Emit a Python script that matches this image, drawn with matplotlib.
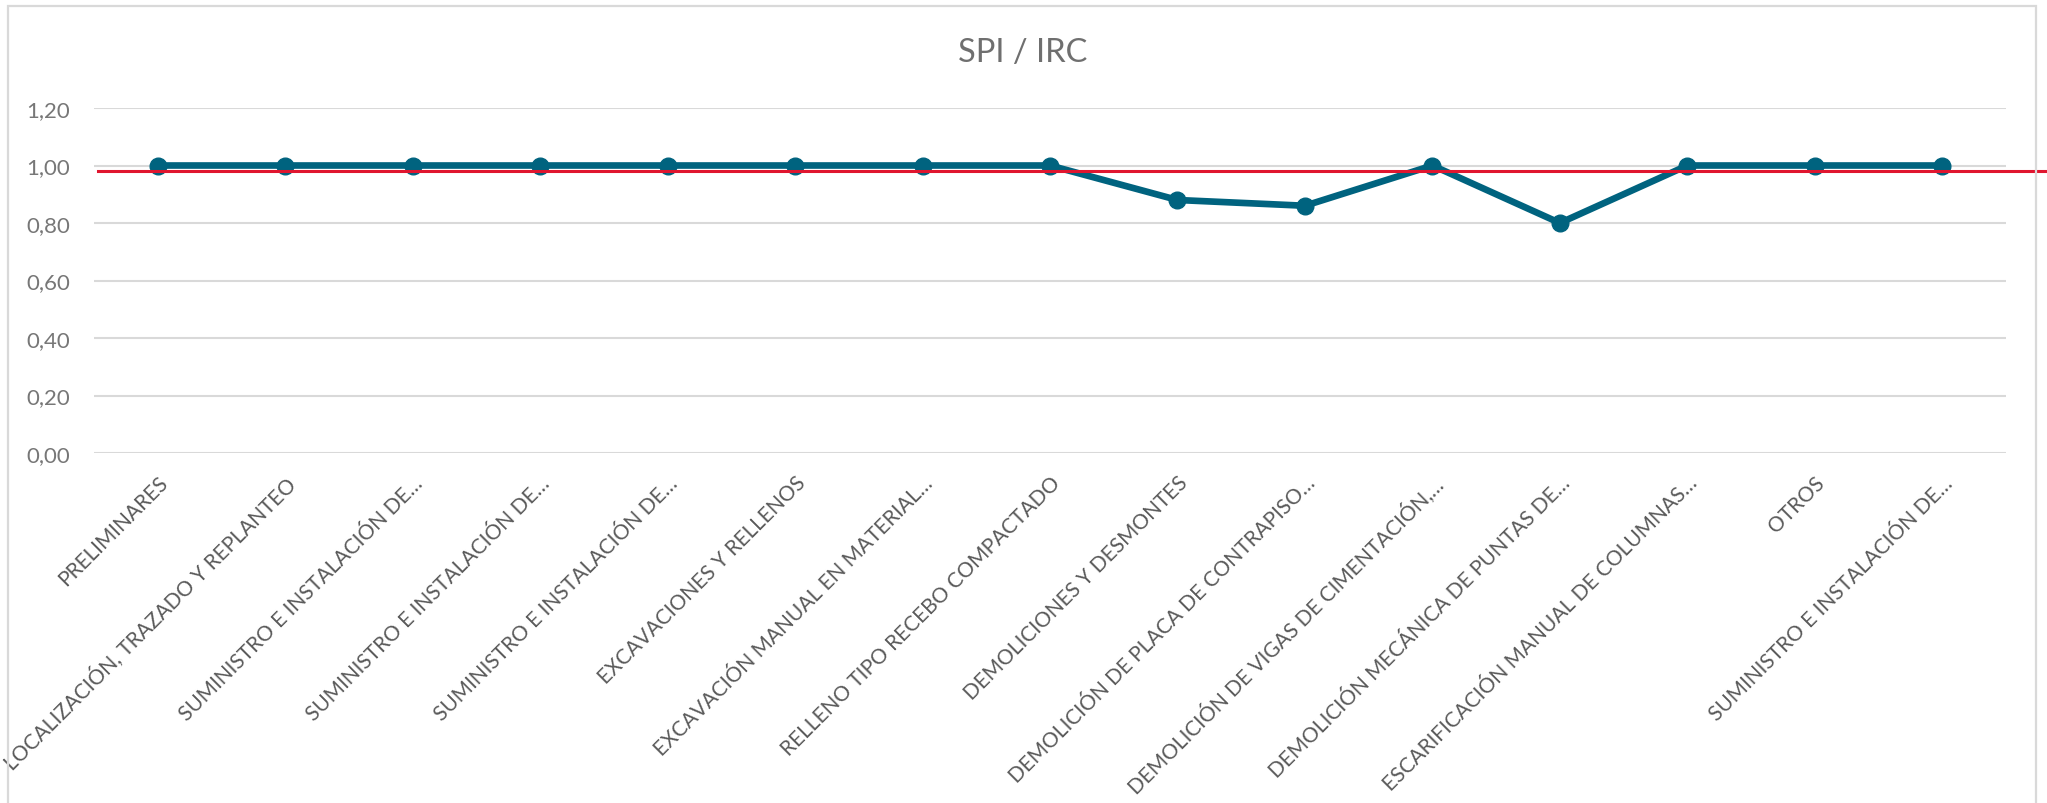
import matplotlib
matplotlib.use("Agg")
import matplotlib.pyplot as plt
from matplotlib.patches import Rectangle
from matplotlib.transforms import blended_transform_factory

categorias = [
    "PRELIMINARES",
    "LOCALIZACIÓN, TRAZADO Y REPLANTEO",
    "SUMINISTRO E INSTALACIÓN DE…",
    "SUMINISTRO E INSTALACIÓN DE…",
    "SUMINISTRO E INSTALACIÓN DE…",
    "EXCAVACIONES Y RELLENOS",
    "EXCAVACIÓN MANUAL EN MATERIAL…",
    "RELLENO TIPO RECEBO COMPACTADO",
    "DEMOLICIONES Y DESMONTES",
    "DEMOLICIÓN DE PLACA DE CONTRAPISO…",
    "DEMOLICIÓN DE VIGAS DE CIMENTACIÓN,…",
    "DEMOLICIÓN MECÁNICA DE PUNTAS DE…",
    "ESCARIFICACIÓN MANUAL DE COLUMNAS…",
    "OTROS",
    "SUMINISTRO E INSTALACIÓN DE…",
]
spi = [1.00, 1.00, 1.00, 1.00, 1.00, 1.00, 1.00, 1.00, 0.88, 0.86, 1.00, 0.80, 1.00, 1.00, 1.00]
referencia = 0.98
yticks = [0.0, 0.2, 0.4, 0.6, 0.8, 1.0, 1.2]

plt.rcParams['font.family'] = ['Lato', 'DejaVu Sans']

fig = plt.figure(figsize=(20.47, 8.04), dpi=100)
ax = fig.add_axes([94/2047, 1-454/804, 1912/2047, 345/804])

# marco del grafico
fig.patches.append(Rectangle((8/2047, -0.1), 2028/2047, 1.1-7/804, transform=fig.transFigure,
                             fill=False, edgecolor='#d9d9d9', lw=1.6))

x = list(range(len(categorias)))
ax.plot(x, spi, color='#00637f', lw=4.8, marker='o', markersize=12, zorder=3)

trans = blended_transform_factory(ax.transAxes, ax.transData)
ax.plot([0.002, 1.03], [referencia, referencia], color='#e0162f', lw=2.2,
        transform=trans, clip_on=False, zorder=4)

ax.set_xlim(-0.5, len(categorias)-0.5)
ax.set_ylim(0, 1.2)
ax.set_yticks(yticks)
ax.set_yticklabels([f"{v:.2f}".replace('.', ',') for v in yticks])
ax.grid(axis='y', color='#d9d9d9', lw=1.5)
ax.set_axisbelow(True)
for s in ax.spines.values():
    s.set_visible(False)
ax.tick_params(axis='y', length=0, pad=17, labelsize=16, labelcolor='#777777')
ax.tick_params(axis='x', length=0, pad=0)

ax.set_xticks(x)
ax.set_xticklabels([])
for i, lab in enumerate(categorias):
    ax.annotate(lab, xy=(i, 0), xytext=(5, -19), textcoords='offset points',
                rotation=45, rotation_mode='anchor', ha='right', va='center',
                fontsize=15, color='#5a5a5a', annotation_clip=False)

fig.text(1023/2047, 1-53/804, "SPI / IRC", ha='center', va='center', fontsize=23.5, color='#6f6f6f')

fig.savefig("out.png", dpi=100, facecolor='white')
